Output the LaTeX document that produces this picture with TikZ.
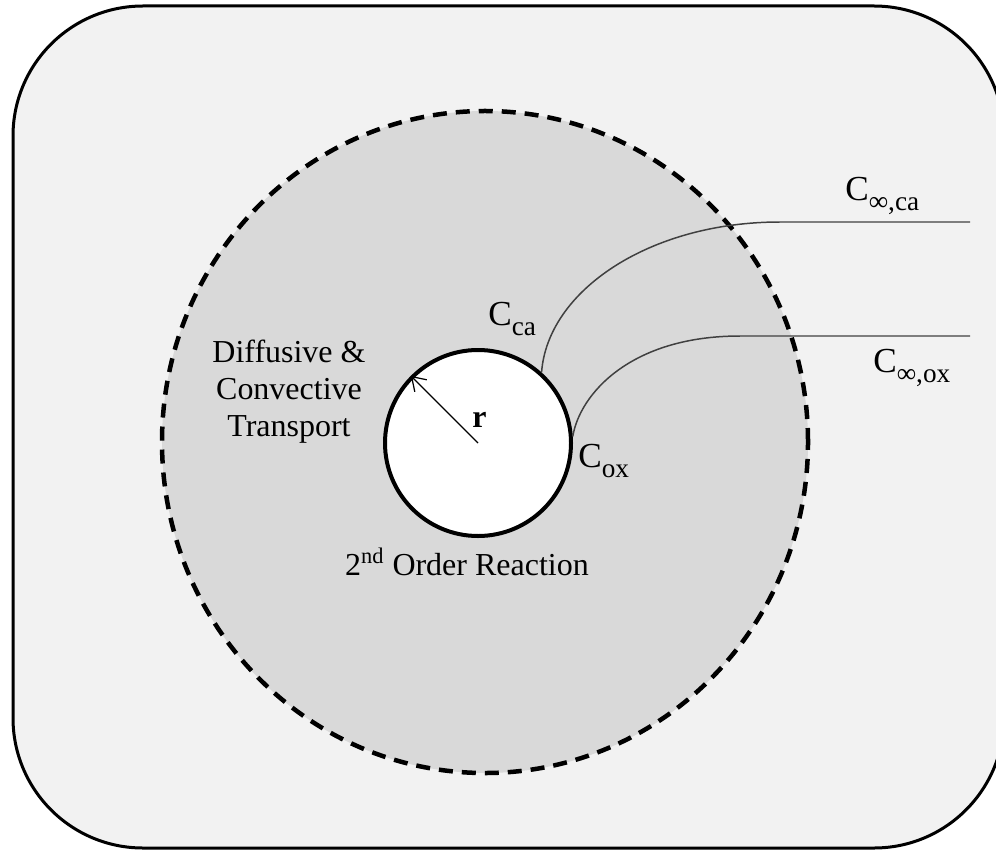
\documentclass[tikz,border=0pt]{standalone}
\usepackage{fontspec}
\setmainfont{Liberation Serif}
\usetikzlibrary{calc,arrows.meta,positioning}

\definecolor{cellbg}{HTML}{F2F2F2}
\definecolor{layerbg}{HTML}{D9D9D9}
\definecolor{profilegray}{HTML}{404040}

% subscript of the concentration labels
\newcommand{\csub}[1]{\raisebox{-2mm}{\fontsize{15.5}{18}\selectfont #1}}

\begin{document}
\begin{tikzpicture}[
        x=0.2mm, y=-0.2mm,
        >=stealth,
        % text styles
        lbl/.style={font=\fontsize{18.2}{21}\selectfont, inner sep=0pt},
        conc/.style={font=\fontsize{20}{24}\selectfont, inner sep=0pt},
        % the particle and its boundary layer
        particle/.style={circle, draw, fill=white, line width=0.8mm, minimum size=37.2mm, inner sep=0pt},
        layer/.style={draw, fill=layerbg, line width=0.9mm, dash pattern=on 2.8mm off 1.8mm},
        % concentration profiles
        profile/.style={draw=profilegray, line width=0.85pt}
    ]

        % 0. Frame of the picture
        \useasboundingbox (0,0) rectangle (996,850);
        \clip (0,0) rectangle (996,850);

        % 1. Bulk fluid and boundary layer
        \draw[fill=cellbg, line width=0.6mm, rounded corners=26mm] (13,6) rectangle (1004,848);
        \draw[layer] (485,442) ellipse [x radius=64.6mm, y radius=66.2mm];

        % 2. The particle
        \node[particle] (particle) at (478,443) {};
        \draw[->, >={Straight Barb[length=2.6mm, width=3.4mm]}, line width=0.7pt] (particle.center) -- (particle.135);

        % 3. End points of the profiles in the bulk
        \coordinate (cajoin) at (780,222);
        \coordinate (caend) at (970,222);
        \coordinate (oxjoin) at (740,336);
        \coordinate (oxend) at (970,336);

        % 4. Concentration profiles
        \draw[profile] (particle.48) .. controls +(6,-82) and +(-130,0) .. (cajoin) -- (caend);
        \draw[profile] (particle.4) .. controls +(7,-42) and +(-110,0) .. (oxjoin) -- (oxend);

        % 5. Labels
        \node[lbl, anchor=base west] (rlbl) at (472,427) {\textbf{r}};
        \node[lbl, align=center] (transport) at (289,392) {Diffusive \&\\Convective\\Transport};
        \node[lbl, anchor=base] (reaction) at (467,575) {2\textsuperscript{nd} Order Reaction};
        \node[conc, anchor=base west] (cca) at (488,325) {C\csub{ca}};
        \node[conc, anchor=base west] (cox) at (578,467) {C\csub{ox}};
        \node[conc, anchor=base west] (cinfca) at (845,201) {C\csub{∞,ca}};
        \node[conc, anchor=base west] (cinfox) at (873,372) {C\csub{∞,ox}};

    \end{tikzpicture}
\end{document}
